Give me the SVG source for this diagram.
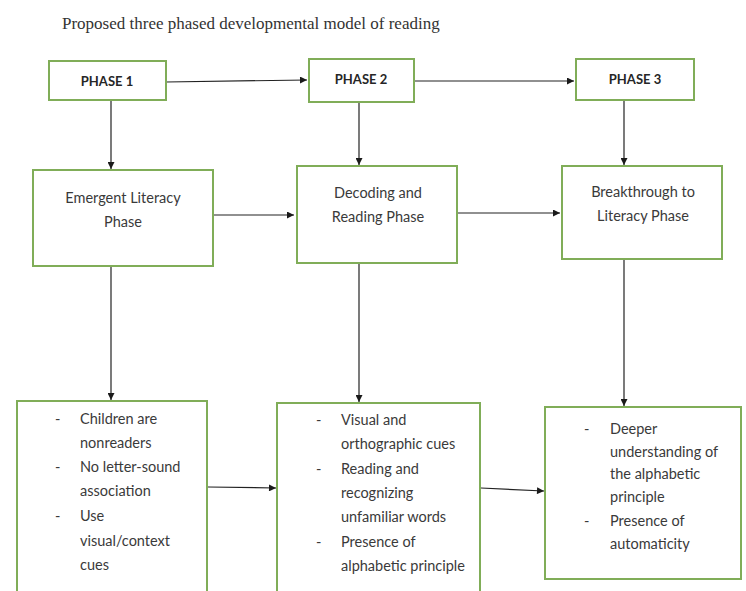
<svg xmlns="http://www.w3.org/2000/svg" width="746" height="591" viewBox="0 0 746 591">
<defs>
<marker id="ah" viewBox="0 0 10 10" refX="10" refY="5" markerWidth="8" markerHeight="7" markerUnits="userSpaceOnUse" orient="auto">
<path d="M0,0 L10,5 L0,10 z" fill="#1a1a1a"/>
</marker>
<style>
.box{fill:#ffffff;stroke:#80ad58;stroke-width:2}
.ph{font-family:Lato,"Liberation Sans",sans-serif;font-weight:bold;font-size:13px;fill:#262626;text-anchor:middle}
.lbl{font-family:Lato,"Liberation Sans",sans-serif;font-size:14.5px;fill:#3a3a3a;text-anchor:middle}
.li{font-family:Lato,"Liberation Sans",sans-serif;font-size:14.5px;fill:#3a3a3a}
.con{stroke:#222;stroke-width:1.2;fill:none}
.title{font-family:"Liberation Serif",serif;font-size:17px;fill:#333}
</style>
</defs>
<rect width="746" height="591" fill="#ffffff"/>
<text class="title" x="62" y="29">Proposed three phased developmental model of reading</text>

<g id="connectors">
<line class="con" x1="166" y1="82" x2="307" y2="80" marker-end="url(#ah)"/>
<line class="con" x1="414" y1="81" x2="574" y2="81" marker-end="url(#ah)"/>
<line class="con" x1="111" y1="101" x2="111" y2="169" marker-end="url(#ah)"/>
<line class="con" x1="359" y1="102" x2="359" y2="165" marker-end="url(#ah)"/>
<line class="con" x1="624" y1="100" x2="624" y2="165" marker-end="url(#ah)"/>
<line class="con" x1="212" y1="215" x2="294" y2="215" marker-end="url(#ah)"/>
<line class="con" x1="456" y1="213" x2="560" y2="213" marker-end="url(#ah)" stroke="#555" stroke-width="1.8"/>
<line class="con" x1="111" y1="267" x2="111" y2="400" marker-end="url(#ah)"/>
<line class="con" x1="359" y1="264" x2="359" y2="402" marker-end="url(#ah)"/>
<line class="con" x1="624" y1="260" x2="624" y2="406" marker-end="url(#ah)"/>
<line class="con" x1="208" y1="487" x2="276" y2="488" marker-end="url(#ah)"/>
<line class="con" x1="481" y1="488" x2="544" y2="491" marker-end="url(#ah)"/>
</g>

<g id="phase1">
<rect class="box" x="49" y="61" width="117" height="39"/>
<text class="ph" x="107" y="86">PHASE 1</text>
</g>
<g id="phase2">
<rect class="box" x="309" y="59" width="105" height="43"/>
<text class="ph" x="361" y="84">PHASE 2</text>
</g>
<g id="phase3">
<rect class="box" x="576" y="59" width="118" height="41"/>
<text class="ph" x="635" y="84">PHASE 3</text>
</g>

<g id="emergent">
<rect class="box" x="33" y="170" width="180" height="96"/>
<text class="lbl" x="123" y="203">Emergent Literacy</text>
<text class="lbl" x="123" y="227">Phase</text>
</g>
<g id="decoding">
<rect class="box" x="297" y="166" width="160" height="97"/>
<text class="lbl" x="378" y="198">Decoding and</text>
<text class="lbl" x="378" y="222">Reading Phase</text>
</g>
<g id="breakthrough">
<rect class="box" x="562" y="166" width="160" height="93"/>
<text class="lbl" x="643" y="197">Breakthrough to</text>
<text class="lbl" x="643" y="221">Literacy Phase</text>
</g>

<g id="list1">
<rect class="box" x="17" y="401" width="190" height="200"/>
<text class="li" x="55" y="424">-</text>
<text class="li" x="80" y="424">Children are</text>
<text class="li" x="80" y="448">nonreaders</text>
<text class="li" x="55" y="472">-</text>
<text class="li" x="80" y="472">No letter-sound</text>
<text class="li" x="80" y="496">association</text>
<text class="li" x="55" y="521">-</text>
<text class="li" x="80" y="521">Use</text>
<text class="li" x="80" y="546">visual/context</text>
<text class="li" x="80" y="570">cues</text>
</g>
<g id="list2">
<rect class="box" x="277" y="403" width="203" height="198"/>
<text class="li" x="316" y="425">-</text>
<text class="li" x="341" y="425">Visual and</text>
<text class="li" x="341" y="449">orthographic cues</text>
<text class="li" x="316" y="474">-</text>
<text class="li" x="341" y="474">Reading and</text>
<text class="li" x="341" y="498">recognizing</text>
<text class="li" x="341" y="522">unfamiliar words</text>
<text class="li" x="316" y="547">-</text>
<text class="li" x="341" y="547">Presence of</text>
<text class="li" x="341" y="571">alphabetic principle</text>
</g>
<g id="list3">
<rect class="box" x="545" y="407" width="196" height="172"/>
<text class="li" x="584" y="434">-</text>
<text class="li" x="610" y="434">Deeper</text>
<text class="li" x="610" y="457">understanding of</text>
<text class="li" x="610" y="479">the alphabetic</text>
<text class="li" x="610" y="502">principle</text>
<text class="li" x="584" y="526">-</text>
<text class="li" x="610" y="526">Presence of</text>
<text class="li" x="610" y="549">automaticity</text>
</g>
</svg>
